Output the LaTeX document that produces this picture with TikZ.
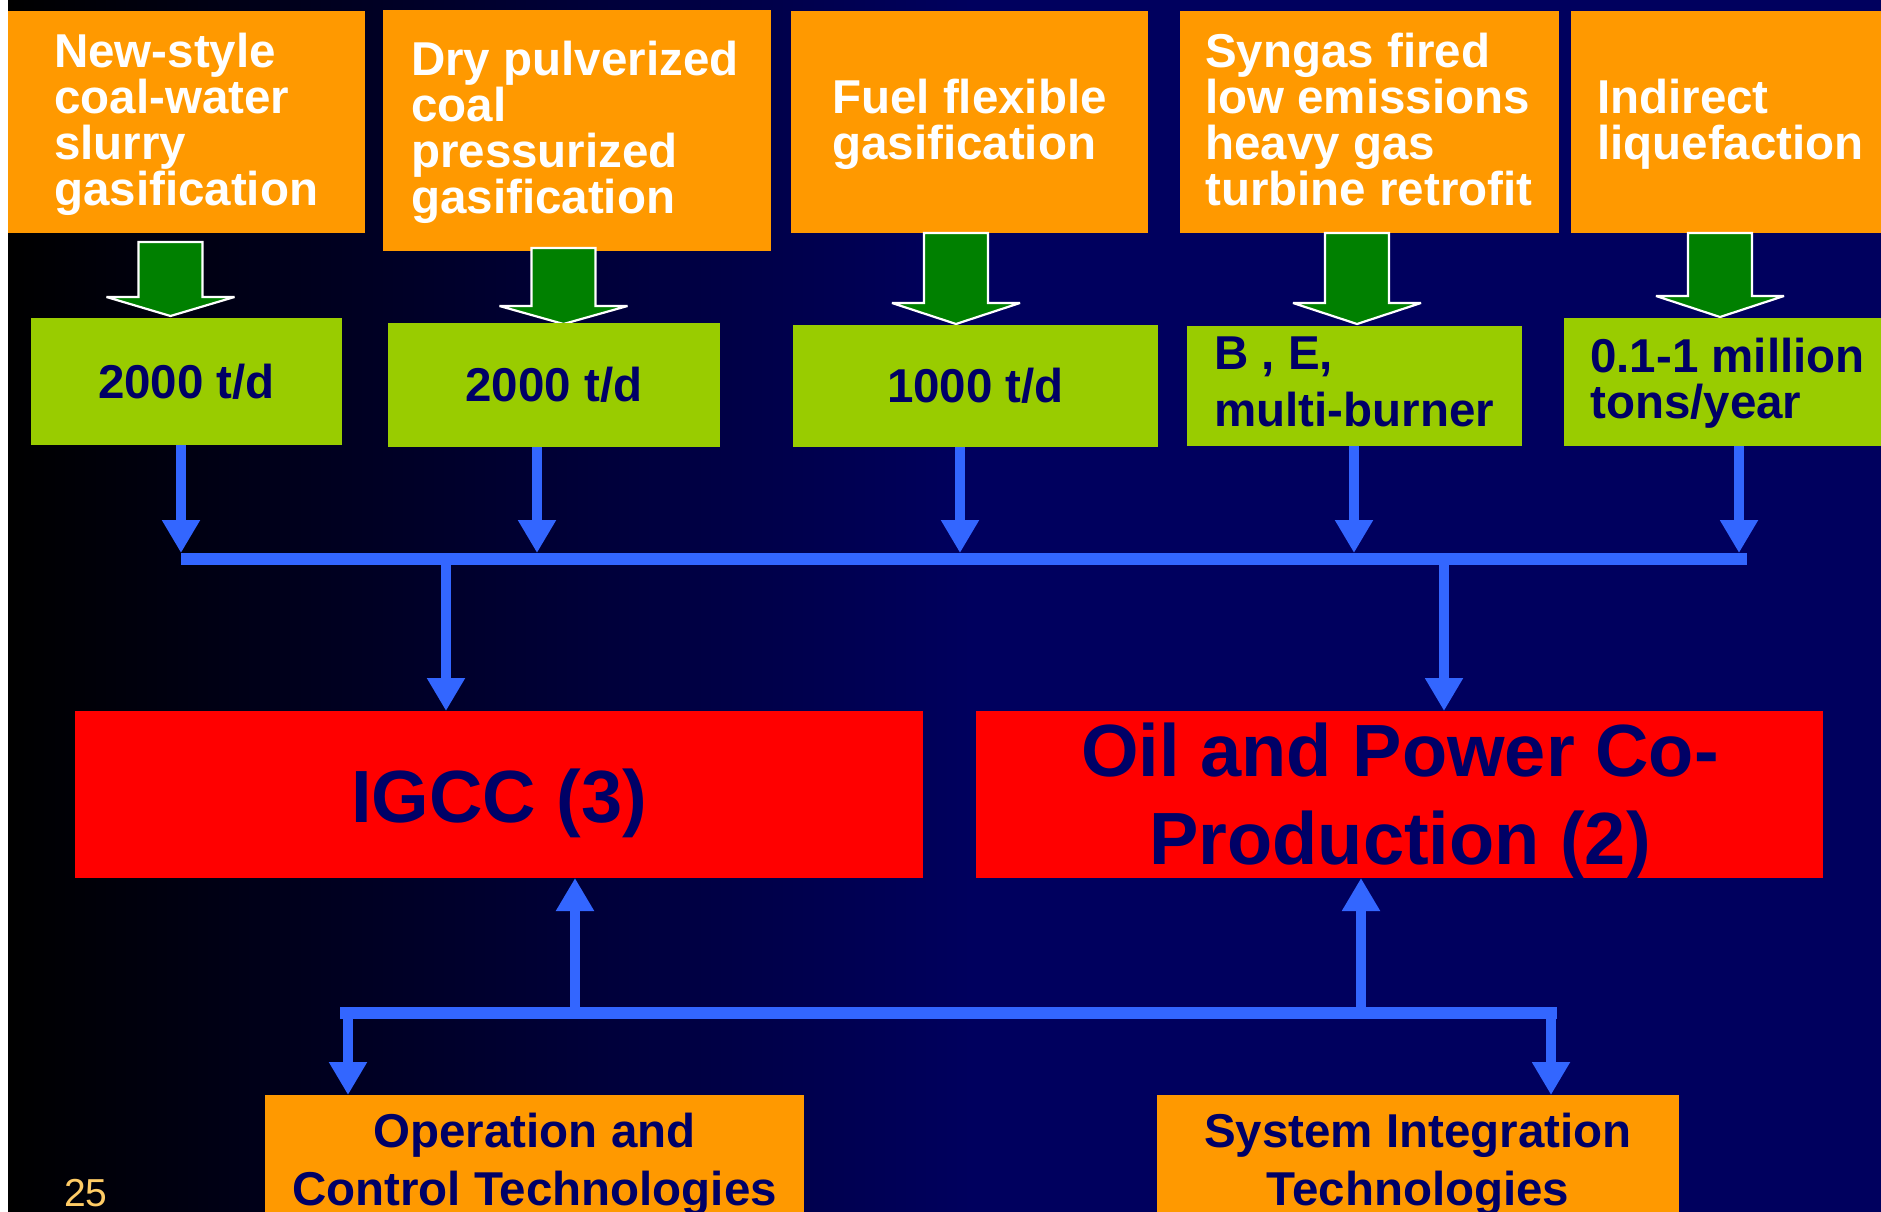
\documentclass[tikz,border=0pt]{standalone}
\usepackage{fontspec}
\setmainfont{Liberation Sans}
\usetikzlibrary{arrows.meta}
\definecolor{bgnavy}{RGB}{0,0,94}
\definecolor{orangebox}{RGB}{255,153,0}
\definecolor{greenbox}{RGB}{153,204,0}
\definecolor{greenarrow}{RGB}{0,128,0}
\definecolor{blueline}{RGB}{51,102,255}
\definecolor{redbox}{RGB}{255,0,0}
\definecolor{navytext}{RGB}{0,0,102}
\definecolor{pagenum}{RGB}{255,204,102}
\newcommand\garrowshape[4]{%
  \filldraw[fill=greenarrow,draw=white,line width=2.2pt,line join=miter,miter limit=1.5]
    (#1-32,#2) -- (#1+32,#2) -- (#1+32,#3) -- (#1+64,#3) -- (#1,#4)
    -- (#1-64,#3) -- (#1-32,#3) -- cycle;}
\tikzset{
  boxbase/.style={inner sep=0pt, outer sep=0pt, anchor=north west},
  topbox/.style={boxbase, fill=orangebox},
  gbox/.style={boxbase, fill=greenbox, text=navytext,
    font=\fontsize{47.5}{46}\selectfont\bfseries},
  redrect/.style={boxbase, fill=redbox},
  botbox/.style={boxbase, fill=orangebox},
  bus/.style={inner sep=0pt, outer sep=0pt, fill=blueline},
  toptext/.style={inner sep=0pt, anchor=north west, align=left, text=white,
    font=\fontsize{47.5}{46}\selectfont\bfseries},
  gtext/.style={inner sep=0pt, anchor=north west, align=left, text=navytext},
  bigtext/.style={inner sep=0pt, text=navytext, align=center,
    font=\fontsize{74}{88}\selectfont\bfseries},
  bottext/.style={inner sep=0pt, anchor=north, text=navytext, align=center,
    font=\fontsize{47.5}{57.5}\selectfont\bfseries},
  conn/.style={draw=blueline, line width=10pt, line cap=butt},
  arr/.style={conn, -{Triangle[width=36pt,length=33pt]}},
}
\begin{document}
\begin{tikzpicture}[x=1pt,y=-1pt]
\useasboundingbox (0,0) rectangle (1881,1212);
% background
\fill[white] (0,0) rectangle (8,1212);
\shade[left color=black, right color=bgnavy] (8,0) rectangle (972,1212);
\fill[bgnavy] (971.5,0) rectangle (1881,1212);

% top orange boxes
\node[topbox, minimum width=357pt, minimum height=222pt] (b1) at (8,11) {};
\node[topbox, minimum width=388pt, minimum height=241pt] (b2) at (383,10) {};
\node[topbox, minimum width=357pt, minimum height=222pt] (b3) at (791,11) {};
\node[topbox, minimum width=379pt, minimum height=222pt] (b4) at (1180,11) {};
\node[topbox, minimum width=320pt, minimum height=222pt] (b5) at (1571,11) {};
\node[toptext] (t1) at (54,33) {New-style\\coal-water\\slurry\\gasification};
\node[toptext] (t2) at (411,41) {Dry pulverized\\coal\\pressurized\\gasification};
\node[toptext] (t3) at (832,79) {Fuel flexible\\gasification};
\node[toptext] (t4) at (1205,33) {Syngas fired\\low emissions\\heavy gas\\turbine retrofit};
\node[toptext] (t5) at (1597,79) {Indirect\\liquefaction};

% green block arrows
\garrowshape{170.5}{242}{297}{316}
\garrowshape{563.5}{248}{306}{324}
\garrowshape{956}{233}{303}{324}
\garrowshape{1357}{233}{303}{324}
\garrowshape{1720}{233}{296}{317}

% green boxes
\node[gbox, minimum width=311pt, minimum height=127pt] (g1) at (31,318) {2000 t/d};
\node[gbox, minimum width=332pt, minimum height=124pt] (g2) at (388,323) {2000 t/d};
\node[gbox, minimum width=365pt, minimum height=122pt] (g3) at (793,325) {1000 t/d};
\node[gbox, minimum width=335pt, minimum height=120pt] (g4) at (1187,326) {};
\node[gbox, minimum width=317pt, minimum height=128pt] (g5) at (1564,318) {};
\node[gtext, font=\fontsize{47.5}{57}\selectfont\bfseries] (t6) at (1214,337) {B , E,\\multi-burner};
\node[gtext, font=\fontsize{47.5}{46}\selectfont\bfseries] (t7) at (1590,338) {0.1-1 million\\tons/year};

% upper bus
\node[bus, minimum width=1566pt, minimum height=12pt] (bus1) at (964,559) {};
\coordinate (c1) at (181,0);
\coordinate (c2) at (537,0);
\coordinate (c3) at (960,0);
\coordinate (c4) at (1354,0);
\coordinate (c5) at (1739,0);
\draw[arr] (g1.south -| c1) -- (bus1.north -| c1);
\draw[arr] (g2.south -| c2) -- (bus1.north -| c2);
\draw[arr] (g3.south -| c3) -- (bus1.north -| c3);
\draw[arr] (g4.south -| c4) -- (bus1.north -| c4);
\draw[arr] (g5.south -| c5) -- (bus1.north -| c5);

% red boxes
\node[redrect, minimum width=848pt, minimum height=167pt] (igcc) at (75,711) {};
\node[redrect, minimum width=847pt, minimum height=167pt] (oil) at (976,711) {};
\node[bigtext, anchor=base] (tigcc) at (499,822) {IGCC (3)};
\node[bigtext, anchor=north] (toil) at (1400,723) {Oil and Power Co-\\Production (2)};

\coordinate (d1) at (446,0);
\coordinate (d2) at (1444,0);
\draw[arr] (bus1.south -| d1) -- (igcc.north -| d1);
\draw[arr] (bus1.south -| d2) -- (oil.north -| d2);

% lower bus
\node[bus, minimum width=1217pt, minimum height=12pt] (bus2) at (948.5,1013) {};
\node[botbox, minimum width=539pt, minimum height=117pt] (op) at (265,1095) {};
\node[botbox, minimum width=522pt, minimum height=117pt] (sys) at (1157,1095) {};
\node[bottext] (top) at (534.5,1113) {Operation and\\Control Technologies};
\node[bottext] (tsys) at (1418,1113) {System Integration\\Technologies};

\coordinate (e1) at (575,0);
\coordinate (e2) at (1361,0);
\coordinate (f1) at (348,0);
\coordinate (f2) at (1551,0);
\draw[arr] (bus2.north -| e1) -- (igcc.south -| e1);
\draw[arr] (bus2.north -| e2) -- (oil.south -| e2);
\draw[arr] (bus2.south -| f1) -- (op.north -| f1);
\draw[arr] (bus2.south -| f2) -- (sys.north -| f2);

% page number
\node[inner sep=0pt, anchor=base west, text=pagenum, font=\fontsize{39}{39}\selectfont] (pnum) at (64,1206) {25};
\end{tikzpicture}
\end{document}
